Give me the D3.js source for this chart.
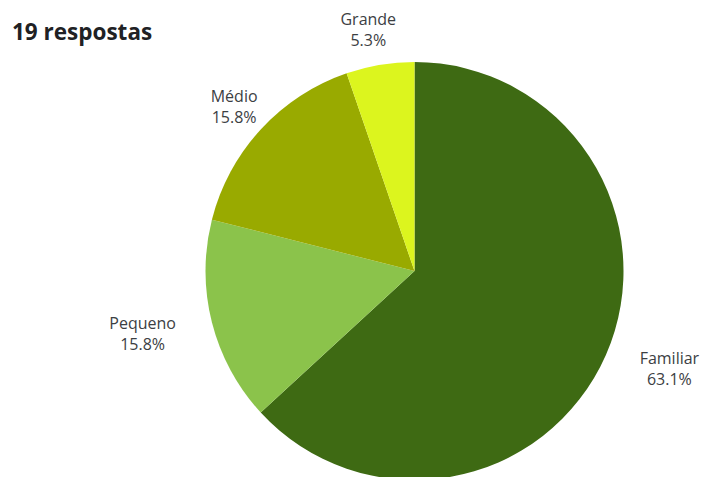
<!DOCTYPE html>
<html>
<head>
<meta charset="utf-8">
<script src="https://cdn.jsdelivr.net/npm/d3@7"></script>
<style>
  html, body { margin: 0; padding: 0; background: #fff; }
  svg { display: block; }
</style>
</head>
<body>
<svg id="chart" width="702" height="477"></svg>
<script>
// Survey answers: company size (19 responses)
const categories = ["Familiar", "Pequeno", "Médio", "Grande"];
const counts = [12, 3, 3, 1];
const percentLabels = ["63.1%", "15.8%", "15.8%", "5.3%"];
const colors = ["#3e6a13", "#8bc34b", "#99aa00", "#dcf51e"];
const title = "19 respostas";

const svg = d3.select("#chart");
const cx = 414.5, cy = 271, radius = 209;

svg.append("text")
  .attr("x", 12)
  .attr("y", 40)
  .attr("font-family", "'Open Sans', sans-serif")
  .attr("font-weight", 700)
  .attr("font-size", 22.5)
  .attr("fill", "#202124")
  .text(title);

const data = categories.map((c, i) => ({ name: c, value: counts[i], pct: percentLabels[i], color: colors[i] }));

const pie = d3.pie().value(d => d.value).sort(null);
const arcs = pie(data);
const arc = d3.arc().innerRadius(0).outerRadius(radius);

const g = svg.append("g").attr("transform", `translate(${cx},${cy})`);

g.selectAll("path")
  .data(arcs)
  .join("path")
  .attr("d", arc)
  .attr("fill", d => d.data.color);

// label block placement: distance from the centre and a small angular nudge (degrees)
const labelPlace = {
  "Familiar": { r: 273, nudge: -2.7 },
  "Pequeno":  { r: 279, nudge: 1.2 },
  "Médio":    { r: 244, nudge: -0.3 },
  "Grande":   { r: 245, nudge: -1.4 }
};

const labels = g.selectAll("g.label")
  .data(arcs)
  .join("g")
  .attr("class", "label")
  .attr("transform", d => {
    const p = labelPlace[d.data.name];
    const a = (d.startAngle + d.endAngle) / 2 + p.nudge * Math.PI / 180;
    return `translate(${Math.sin(a) * p.r},${-Math.cos(a) * p.r})`;
  });

labels.append("text")
  .attr("text-anchor", "middle")
  .attr("font-family", "'Open Sans', sans-serif")
  .attr("font-size", 16)
  .attr("fill", "#3c4043")
  .attr("y", -5)
  .text(d => d.data.name);

labels.append("text")
  .attr("text-anchor", "middle")
  .attr("font-family", "'Open Sans', sans-serif")
  .attr("font-size", 16)
  .attr("fill", "#3c4043")
  .attr("y", 16)
  .text(d => d.data.pct);
</script>
</body>
</html>
